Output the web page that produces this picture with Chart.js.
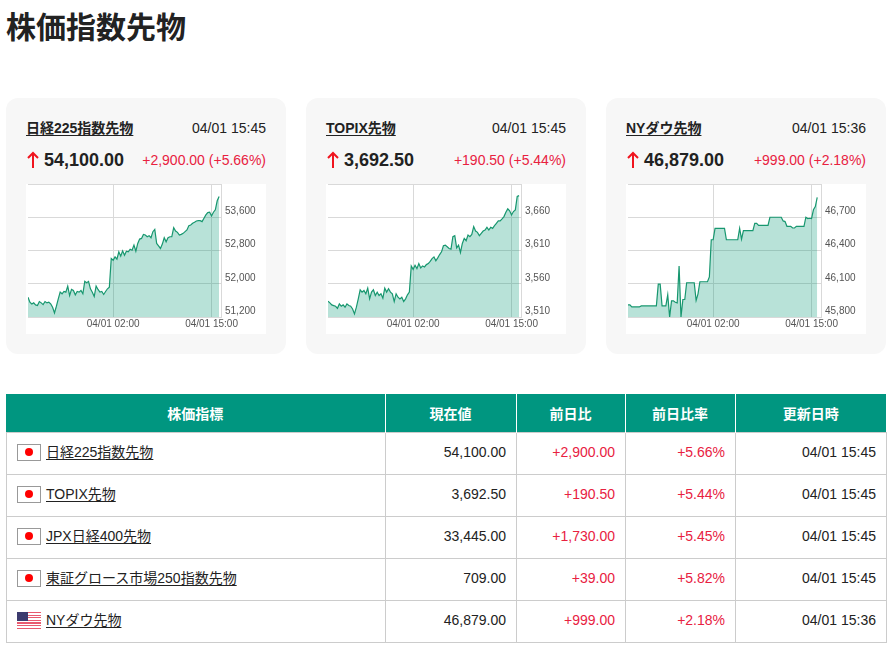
<!DOCTYPE html>
<html lang="ja">
<head>
<meta charset="utf-8">
<title>株価指数先物</title>
<script src="https://cdn.jsdelivr.net/npm/chart.js@4"></script>
<style>
  html, body { margin: 0; padding: 0; background: #fff; overflow: hidden; }
  body { font-family: "Liberation Sans", "Noto Sans CJK JP", sans-serif; color: #222; width: 893px; height: 653px; position: relative; }
  h1 { position: absolute; left: 6px; top: 8px; margin: 0; font-size: 30px; line-height: 40px; font-weight: bold; }
  a { color: #222; text-decoration: underline; text-underline-offset: 2px; }
  .card { position: absolute; top: 98px; width: 280px; height: 256px; background: #f7f7f7; border-radius: 12px; }
  .card .name { position: absolute; left: 20px; top: 20px; font-size: 14px; line-height: 20px; font-weight: bold; }
  .card .time { position: absolute; right: 20px; top: 20px; font-size: 14px; line-height: 20px; }
  .card .arrow { position: absolute; left: 20.5px; top: 53px; }
  .card .price { position: absolute; left: 38px; top: 50px; font-size: 18px; line-height: 24px; font-weight: bold; }
  .card .diff { position: absolute; right: 20px; top: 52px; font-size: 14px; line-height: 20px; color: #e8213f; }
  .card .box { position: absolute; left: 20px; top: 86px; width: 240px; height: 150px; background: #fff; }
  table { position: absolute; left: 5.5px; top: 394px; width: 880px; border-collapse: collapse; table-layout: fixed; font-size: 14px; }
  th { background: #009680; color: #fff; height: 38px; padding: 0; font-weight: bold; border-left: 1px solid #fff; }
  th:first-child { border-left: 0; }
  td { height: 42px; padding: 0 9.5px 4px 10.5px; box-sizing: border-box; border: 1px solid #ccc; text-align: right; line-height: 18px; }
  td:first-child { text-align: left; }
  td.up { color: #e8213f; }
  .flag { display: inline-block; width: 24px; height: 17px; vertical-align: -4px; margin-right: 5px; box-sizing: border-box; position: relative; }
  .flag.jp { border: 1px solid #999; background: #fff; }
  .flag.jp::after { content: ""; position: absolute; left: 7px; top: 3px; width: 8px; height: 8px; border-radius: 50%; background: #f00; }
  .flag.us { background: linear-gradient(#3c3b6e, #3c3b6e) 0 0 / 11px 9px no-repeat, repeating-linear-gradient(#e8596f 0, #e8596f 1.3px, #fff 1.3px, #fff 2.6px); }
</style>
</head>
<body>
<h1>株価指数先物</h1>
<div id="cards"></div>
<table id="tbl"></table>
<script>
// 時刻 (04/01 00:00 からの時間)
const hours = [-9.25,-9,-8.75,-8.5,-8.25,-8,-7.75,-7.5,-7.25,-7,-6.75,-6.5,-6.25,-6,-5.75,-5.5,-5.25,-5,-4.75,-4.5,-4.25,-4,-3.75,-3.5,-3.25,-3,-2.75,-2.5,-2.25,-2,-1.75,-1.5,-1.25,-1,-0.75,-0.5,-0.25,0,0.25,0.5,0.75,1,1.25,1.5,1.75,2,2.25,2.5,2.75,3,3.25,3.5,3.75,4,4.25,4.5,4.75,5,5.25,5.5,5.75,6,6.25,6.5,6.75,7,7.25,7.5,7.75,8,8.25,8.5,8.75,9,9.25,9.5,9.75,10,10.25,10.5,10.75,11,11.25,11.5,11.75,12,12.25,12.5,12.75,13,13.25,13.5,13.75,14,14.25,14.5,14.75,15,15.25,15.5,15.75,16];

const nikkeiValues = [51677,51556,51515,51540,51491,51475,51572,51540,51499,51572,51540,51556,51515,51435,51297,51459,51637,51798,51758,51814,51798,51944,51717,51863,51839,51734,51814,51798,51839,51758,52057,52024,52057,51879,51798,51693,51944,51863,51798,51814,51742,51814,51879,51919,52606,52566,52647,52590,52768,52663,52792,52687,52784,52768,52832,52808,52929,52784,52970,53075,53091,53188,53172,53131,53156,53107,53253,53309,52970,52913,52849,52954,53107,53010,53107,53131,53131,53350,53269,53236,53172,53188,53212,53253,53293,53398,53414,53455,53479,53511,53519,53519,53495,53576,53657,53713,53721,53632,53721,53778,53996,54100];
const topixValues = [3533.8,3531.2,3528.2,3527.2,3526.2,3523.1,3529.7,3526.2,3528.2,3524.7,3529.7,3527.2,3526.2,3522.1,3514.6,3524.7,3537.3,3550.9,3547.4,3549.9,3544.9,3553.4,3537.3,3547.4,3550.9,3542.3,3547.4,3542.3,3544.9,3538.3,3553.4,3547.4,3552.4,3547.4,3544.9,3533.2,3544.9,3539.8,3537.3,3539.8,3533.2,3537.3,3543.3,3547.4,3586.8,3581.7,3587.8,3582.7,3590.3,3583.7,3586.8,3585.3,3588.8,3590.3,3593.8,3597.9,3600.4,3594.4,3598.9,3603.9,3608,3617.1,3618.1,3615.6,3613,3612,3630.7,3632.2,3614,3618.1,3607,3620.6,3628.2,3624.7,3633.2,3630.7,3634.2,3645.9,3639.3,3637.3,3632.2,3635.8,3639.3,3640.8,3644.9,3640.8,3644.9,3643.3,3647.4,3650.9,3654.4,3654.4,3657.5,3661,3667.6,3672.6,3669.6,3663.5,3668.6,3671.1,3691.3,3692.5];
const dowValues = [45909,45909,45891,45891,45891,45891,45891,45900,45900,45900,45900,45900,45900,45900,45900,45900,46097,46097,45900,45900,45900,46000,45800,45946,45946,45933,45927,46261,45800,45958,45958,46109,46109,46109,46109,46109,45949,46009,46118,46118,46118,46118,46118,46161,46497,46497,46600,46600,46600,46600,46600,46600,46497,46497,46497,46497,46497,46497,46497,46600,46503,46579,46579,46579,46579,46579,46579,46645,46645,46627,46627,46627,46627,46627,46627,46700,46700,46700,46700,46700,46700,46700,46667,46661,46618,46618,46618,46603,46603,46618,46618,46618,46618,46618,46700,46688,46691,46688,46767,46797,46879];

const cardNames = ['日経225指数先物', 'TOPIX先物', 'NYダウ先物'];
const cardTimes = ['04/01 15:45', '04/01 15:45', '04/01 15:36'];
const cardPrices = ['54,100.00', '3,692.50', '46,879.00'];
const cardDiffs = ['+2,900.00 (+5.66%)', '+190.50 (+5.44%)', '+999.00 (+2.18%)'];
const cardSeries = [nikkeiValues, topixValues, dowValues];
const axisMins = [51200, 3510, 45800];
const axisSteps = [800, 50, 300];

const xTickHours = [2, 15];
const xTickLabels = ['04/01 02:00', '04/01 15:00'];

const tableHeaders = ['株価指標', '現在値', '前日比', '前日比率', '更新日時'];
const columnWidths = [379, 131, 109, 110, 151];
const rowNames = ['日経225指数先物', 'TOPIX先物', 'JPX日経400先物', '東証グロース市場250指数先物', 'NYダウ先物'];
const rowFlags = ['jp', 'jp', 'jp', 'jp', 'us'];
const rowPrices = ['54,100.00', '3,692.50', '33,445.00', '709.00', '46,879.00'];
const rowDiffs = ['+2,900.00', '+190.50', '+1,730.00', '+39.00', '+999.00'];
const rowRates = ['+5.66%', '+5.44%', '+5.45%', '+5.82%', '+2.18%'];
const rowTimes = ['04/01 15:45', '04/01 15:45', '04/01 15:45', '04/01 15:45', '04/01 15:36'];

const cardsEl = document.getElementById('cards');
cardNames.forEach((name, i) => {
  const card = document.createElement('div');
  card.className = 'card';
  card.style.left = (6 + i * 300) + 'px';
  card.innerHTML =
    `<a class="name">${name}</a><span class="time">${cardTimes[i]}</span>` +
    `<svg class="arrow" width="12" height="18" viewBox="0 0 12 18"><path d="M6 17V2M1 7l5-5 5 5" fill="none" stroke="#f0141e" stroke-width="2"/></svg>` +
    `<span class="price">${cardPrices[i]}</span><span class="diff">${cardDiffs[i]}</span>` +
    `<div class="box"><canvas width="240" height="150"></canvas></div>`;
  cardsEl.appendChild(card);

  const min = axisMins[i];
  const step = axisSteps[i];
  new Chart(card.querySelector('canvas'), {
    type: 'line',
    data: {
      datasets: [{
        data: cardSeries[i].map((v, k) => ({ x: hours[k], y: v })),
        borderColor: '#17976f',
        borderWidth: 1.2,
        pointRadius: 0,
        tension: 0,
        fill: 'start',
        backgroundColor: 'rgba(0,150,115,0.28)',
      }],
    },
    options: {
      responsive: false,
      animation: false,
      events: [],
      layout: { padding: { left: 2, top: 0, right: 0, bottom: 0 } },
      plugins: { legend: { display: false }, tooltip: { enabled: false } },
      scales: {
        x: {
          type: 'linear',
          min: -9.25,
          max: 16.25,
          afterBuildTicks: (axis) => { axis.ticks = xTickHours.map((h) => ({ value: h })); },
          afterFit: (axis) => { axis.height = 17; axis.paddingLeft = 0; axis.paddingRight = 0; },
          grid: { color: '#d9d9d9', drawTicks: false },
          border: { color: '#d9d9d9', width: 1 },
          ticks: {
            autoSkip: false,
            maxRotation: 0,
            padding: 1,
            color: '#555',
            font: { size: 10, family: '"Liberation Sans"' },
            callback: (v) => xTickLabels[xTickHours.indexOf(v)],
          },
        },
        y: {
          position: 'right',
          min: min,
          max: min + step * 4,
          afterBuildTicks: (axis) => { axis.ticks = [0, 1, 2, 3, 4].map((n) => ({ value: min + step * n })); },
          afterFit: (axis) => { axis.width = 45; axis.paddingTop = 0; axis.paddingBottom = 0; },
          grid: { color: '#d9d9d9', drawTicks: false },
          border: { color: '#d9d9d9', width: 1 },
          ticks: {
            padding: 4,
            labelOffset: -6,
            color: '#555',
            font: { size: 10, family: '"Liberation Sans"' },
            callback: (v) => (v === min + step * 4 ? '' : v.toLocaleString('en-US')),
          },
        },
      },
    },
  });
});

const tbl = document.getElementById('tbl');
tbl.innerHTML =
  '<colgroup>' + columnWidths.map((w) => `<col style="width:${w}px">`).join('') + '</colgroup>' +
  '<tr>' + tableHeaders.map((h) => `<th>${h}</th>`).join('') + '</tr>' +
  rowNames.map((name, i) =>
    `<tr><td><span class="flag ${rowFlags[i]}"></span><a>${name}</a></td>` +
    `<td>${rowPrices[i]}</td><td class="up">${rowDiffs[i]}</td><td class="up">${rowRates[i]}</td><td>${rowTimes[i]}</td></tr>`
  ).join('');
</script>
</body>
</html>
